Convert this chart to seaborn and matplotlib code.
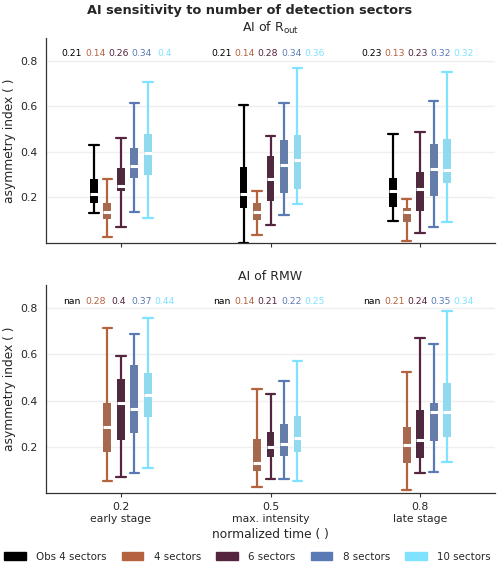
import numpy as np
import pandas as pd
import matplotlib
matplotlib.use("Agg")
import matplotlib.pyplot as plt
from matplotlib.patches import Patch
import seaborn as sns

# ---------------- data ----------------
times = [0.2, 0.5, 0.8]
time_labels = ["0.2\nearly stage", "0.5\nmax. intensity", "0.8\nlate stage"]
series = ["Obs 4 sectors", "4 sectors", "6 sectors", "8 sectors", "10 sectors"]
colors = ["#000000", "#B5623F", "#55243F", "#5A7AB5", "#7FE3FF"]

# box statistics per series, per time: [whisker low, q1, median, q3, whisker high]
rout_obs4 = [[0.13, 0.174, 0.213, 0.279, 0.431],
             [0.0, 0.153, 0.213, 0.332, 0.607],
             [0.096, 0.159, 0.228, 0.285, 0.479]]
rout_s4 = [[0.027, 0.106, 0.137, 0.174, 0.281],
           [0.037, 0.102, 0.137, 0.175, 0.228],
           [0.01, 0.093, 0.135, 0.155, 0.194]]
rout_s6 = [[0.069, 0.228, 0.25, 0.329, 0.462],
           [0.078, 0.184, 0.279, 0.382, 0.471],
           [0.044, 0.141, 0.235, 0.313, 0.487]]
rout_s8 = [[0.137, 0.283, 0.336, 0.415, 0.613],
           [0.125, 0.218, 0.344, 0.45, 0.616],
           [0.072, 0.206, 0.324, 0.433, 0.622]]
rout_s10 = [[0.11, 0.297, 0.394, 0.478, 0.705],
            [0.169, 0.238, 0.362, 0.474, 0.769],
            [0.09, 0.263, 0.321, 0.456, 0.75]]

rmw_obs4 = [None, None, None]
rmw_s4 = [[0.054, 0.179, 0.284, 0.391, 0.715],
          [0.028, 0.097, 0.13, 0.234, 0.45],
          [0.015, 0.128, 0.209, 0.284, 0.525]]
rmw_s6 = [[0.069, 0.228, 0.389, 0.492, 0.592],
          [0.06, 0.158, 0.2, 0.264, 0.427],
          [0.088, 0.152, 0.231, 0.358, 0.673]]
rmw_s8 = [[0.088, 0.262, 0.364, 0.553, 0.687],
          [0.062, 0.161, 0.214, 0.301, 0.483],
          [0.089, 0.224, 0.35, 0.391, 0.645]]
rmw_s10 = [[0.11, 0.331, 0.426, 0.518, 0.756],
           [0.05, 0.179, 0.24, 0.334, 0.573],
           [0.133, 0.244, 0.35, 0.477, 0.788]]

# printed median labels (per time, per series)
rout_labels = [["0.21", "0.14", "0.26", "0.34", "0.4"],
               ["0.21", "0.14", "0.28", "0.34", "0.36"],
               ["0.23", "0.13", "0.23", "0.32", "0.32"]]
rmw_labels = [["nan", "0.28", "0.4", "0.37", "0.44"],
              ["nan", "0.14", "0.21", "0.22", "0.25"],
              ["nan", "0.21", "0.24", "0.35", "0.34"]]

panels = [
    ("AI of R$_{\\mathrm{out}}$", [rout_obs4, rout_s4, rout_s6, rout_s8, rout_s10], rout_labels),
    ("AI of RMW", [rmw_obs4, rmw_s4, rmw_s6, rmw_s8, rmw_s10], rmw_labels),
]


def to_frame(stats_list):
    rows = []
    for name, stats in zip(series, stats_list):
        for t, st in zip(times, stats):
            if st is None:
                continue
            for v in st:
                rows.append({"time": t, "series": name, "value": v})
    return pd.DataFrame(rows)


# ---------------- plot ----------------
sns.set_theme(style="white")
plt.rcParams["font.family"] = ["DejaVu Sans"]

fig = plt.figure(figsize=(5.0, 5.67), dpi=100)
ax_top = fig.add_axes([0.092, 0.5714, 0.898, 0.362])
ax_bot = fig.add_axes([0.092, 0.1305, 0.898, 0.3665])

palette = dict(zip(series, colors))

for ax, (title, stats_list, labels) in zip([ax_top, ax_bot], panels):
    df = to_frame(stats_list)
    for name, col in zip(series, colors):
        sub = df[df["series"] == name]
        if sub.empty:
            continue
        sns.boxplot(data=sub, x="time", y="value", hue="series",
                    hue_order=series, palette=palette, native_scale=True,
                    dodge=True, width=0.45, gap=0.42, whis=(0, 100),
                    linecolor=col, linewidth=1.6, fliersize=0,
                    boxprops={"linewidth": 0},
                    medianprops={"color": "white", "linewidth": 2.2},
                    capwidths=0.019, legend=False, ax=ax)
    # median labels
    for t, labs in zip(times, labels):
        for i, (lab, col) in enumerate(zip(labs, colors)):
            ax.text(t + (i - 2) * 0.0464 - 0.005, 0.83, lab, color=col,
                    ha="center", va="center", fontsize=6.7)
    ax.set_xlim(0.05, 0.95)
    ax.set_ylim(0, 0.9)
    ax.set_yticks([0.2, 0.4, 0.6, 0.8])
    ax.set_yticklabels(["0.2", "0.4", "0.6", "0.8"])
    ax.set_xticks(times)
    ax.yaxis.grid(True, color="#efefef", linewidth=1.0)
    ax.xaxis.grid(False)
    ax.set_axisbelow(True)
    ax.tick_params(axis="y", length=0, pad=6, labelsize=7.8)
    ax.tick_params(axis="x", length=3, width=0.8, color="#333333", labelsize=7.8, bottom=True)
    for s in ["top", "right"]:
        ax.spines[s].set_visible(False)
    for s in ["left", "bottom"]:
        ax.spines[s].set_color("#333333")
        ax.spines[s].set_linewidth(0.9)
    ax.set_title(title, fontsize=9, pad=4)
    ax.set_ylabel("asymmetry index ( )", fontsize=8.8, labelpad=3)

ax_top.set_xticklabels([])
ax_top.set_xlabel("")
ax_bot.set_xticklabels(time_labels)
ax_bot.set_xlabel("normalized time ( )", fontsize=8.8, labelpad=3)

fig.suptitle("AI sensitivity to number of detection sectors", fontsize=9.3,
             fontweight="bold", y=0.993)

handles = [Patch(facecolor=c, edgecolor=c, label=n) for n, c in zip(series, colors)]
fig.legend(handles=handles, loc="center", bbox_to_anchor=(0.495, 0.018), ncol=5,
           frameon=False, fontsize=7.4, handlelength=2.1, handleheight=0.8,
           columnspacing=1.5, handletextpad=1.0)

fig.savefig("out.png", dpi=100)
